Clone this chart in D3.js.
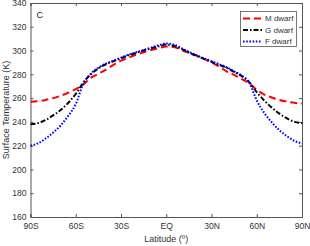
<!DOCTYPE html>
<html>
<head>
<meta charset="utf-8">
<script src="https://cdnjs.cloudflare.com/ajax/libs/d3/7.8.5/d3.min.js"></script>
<style>
  body { margin: 0; background: #fff; }
  svg { font-family: "Liberation Sans", Arial, sans-serif; }
</style>
</head>
<body>
<svg id="chart" width="310" height="246"></svg>
<script>
// Latitudes every 5 degrees, south to north
const latitudes = d3.range(-90, 91, 5);

// Surface temperature (K) for each star type
const mDwarf = [257, 257.5, 258.5, 260, 262, 264.5, 267.5, 271.5, 277, 280.5,
  284, 288, 291.5, 294, 296.5, 298.5, 300.5, 302, 303.5,
  303, 300.5, 298, 296, 293, 290, 286.5, 282.5, 279.5, 276,
  272.5, 267, 263, 260.5, 258.5, 257, 256, 255.5];
const gDwarf = [238, 239, 241.5, 245.5, 250, 256, 263.5, 273, 280, 285,
  288.5, 291, 293.5, 296, 298, 300, 302, 303.5, 305,
  304, 301.5, 298.5, 295.5, 293, 290.5, 288, 285.5, 282, 278.5,
  273.5, 265, 258, 252, 247, 243, 240, 239];
const fDwarf = [220, 222, 226, 231, 237, 245, 255, 272, 280.5, 285.5,
  289, 291.5, 294, 296.5, 298.5, 300.5, 302.5, 304.5, 306,
  305, 302, 299, 296, 293.5, 291, 288.5, 286, 282.5, 279,
  273, 258, 247.5, 239.5, 233, 228, 224, 222];

const seriesNames = ["M dwarf", "G dwarf", "F dwarf"];
const xTickValues = [-90, -60, -30, 0, 30, 60, 90];
const xTickLabels = ["90S", "60S", "30S", "EQ", "30N", "60N", "90N"];
const yTickValues = d3.range(160, 341, 20);

// Layout
const margin = {top: 3, right: 8, bottom: 29, left: 30.5};
const width = 310 - margin.left - margin.right;
const height = 246 - margin.top - margin.bottom;

const svg = d3.select("#chart")
  .append("g")
    .attr("transform", `translate(${margin.left},${margin.top})`);

const xScale = d3.scaleLinear().domain([-90, 90]).range([0, width]);
const yScale = d3.scaleLinear().domain([160, 340]).range([height, 0]);

const axisColor = "#555";
const textColor = "#333";
const tickLen = 3;

// Bottom axis (labels) and top axis (ticks only)
const xAxis = svg.append("g")
  .attr("transform", `translate(0,${height})`)
  .call(d3.axisBottom(xScale)
    .tickValues(xTickValues)
    .tickSize(-tickLen)
    .tickPadding(6)
    .tickFormat(function(d, i) { return xTickLabels[i]; }));
svg.append("g")
  .call(d3.axisTop(xScale).tickValues(xTickValues).tickSize(-tickLen).tickFormat(""));

// Left axis (labels) and right axis (ticks only)
const yAxis = svg.append("g")
  .call(d3.axisLeft(yScale)
    .tickValues(yTickValues)
    .tickSize(-tickLen)
    .tickPadding(4));
svg.append("g")
  .attr("transform", `translate(${width},0)`)
  .call(d3.axisRight(yScale).tickValues(yTickValues).tickSize(-tickLen).tickFormat(""));

svg.selectAll(".domain").attr("stroke", axisColor).attr("stroke-width", 1);
svg.selectAll(".tick line").attr("stroke", axisColor);
svg.selectAll(".tick text")
  .attr("fill", textColor)
  .style("font-size", "8.5px");

// Lines
const seriesData = [
  {name: seriesNames[0], values: mDwarf, color: "#ff0000", dash: "7,4"},
  {name: seriesNames[1], values: gDwarf, color: "#000000", dash: "5,2,1.5,2"},
  {name: seriesNames[2], values: fDwarf, color: "#0000ff", dash: "1.6,1.6"}
];

const line = d3.line()
  .x(function(d, i) { return xScale(latitudes[i]); })
  .y(function(d) { return yScale(d); })
  .curve(d3.curveMonotoneX);

svg.selectAll(".line")
  .data(seriesData)
  .join("path")
    .attr("class", "line")
    .attr("fill", "none")
    .attr("stroke", function(d) { return d.color; })
    .attr("stroke-width", 2)
    .attr("stroke-dasharray", function(d) { return d.dash; })
    .attr("d", function(d) { return line(d.values); });

// Panel letter
svg.append("text")
  .attr("x", 6)
  .attr("y", 15)
  .attr("fill", "#222")
  .style("font-size", "9px")
  .text("C");

// Legend
const legend = svg.append("g")
  .attr("transform", `translate(${240.5 - margin.left},${11.5 - margin.top})`);
legend.append("rect")
  .attr("width", 56)
  .attr("height", 35)
  .attr("fill", "#fff")
  .attr("stroke", axisColor)
  .attr("stroke-width", 0.8);
const legendRows = legend.selectAll(".legend-row")
  .data(seriesData)
  .join("g")
    .attr("class", "legend-row")
    .attr("transform", function(d, i) { return `translate(0,${7 + i * 11.5})`; });
legendRows.append("line")
  .attr("x1", 2.5)
  .attr("x2", 21.5)
  .attr("stroke", function(d) { return d.color; })
  .attr("stroke-width", 2)
  .attr("stroke-dasharray", function(d) { return d.dash; });
legendRows.append("text")
  .attr("x", 24.5)
  .attr("dy", "0.35em")
  .attr("fill", textColor)
  .style("font-size", "8px")
  .text(function(d) { return d.name; });

// Axis labels
svg.append("text")
  .attr("x", width / 2)
  .attr("y", height + 25)
  .style("text-anchor", "middle")
  .attr("fill", textColor)
  .style("font-size", "9px")
  .text("Latitude (º)");

svg.append("text")
  .attr("transform", "rotate(-90)")
  .attr("x", -height / 2)
  .attr("y", -22)
  .style("text-anchor", "middle")
  .attr("fill", textColor)
  .style("font-size", "9px")
  .text("Surface Temperature (K)");
</script>
</body>
</html>
